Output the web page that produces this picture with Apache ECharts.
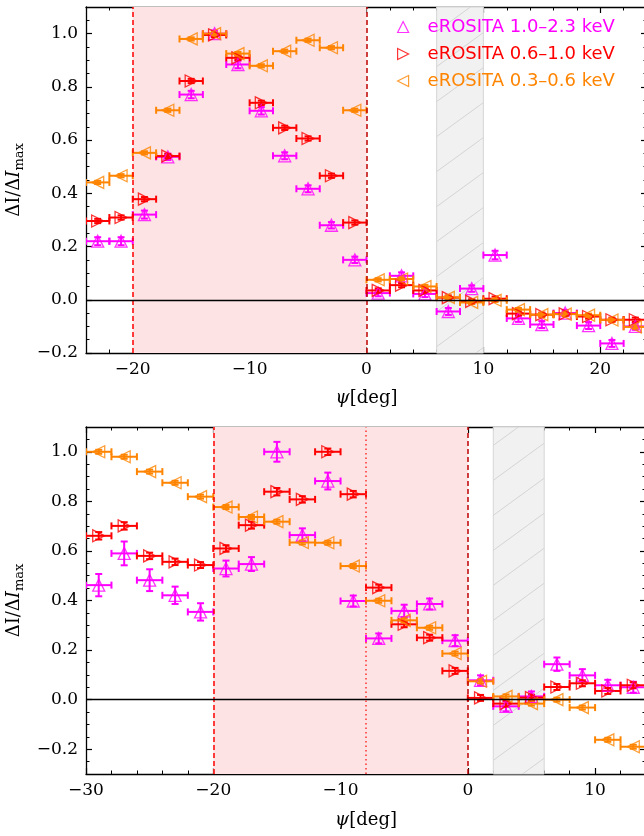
<!DOCTYPE html>
<html>
<head>
<meta charset="UTF-8">
<style>
  html, body { margin: 0; padding: 0; background: #fff; }
  #chart { width: 644px; height: 836px; }
</style>
</head>
<body>
<div id="chart"></div>
<script src="https://cdn.jsdelivr.net/npm/echarts@6/dist/echarts.min.js"></script>
<script>
// bin centres in deg (each bin 2 deg wide)
var psiTop = [-23, -21, -19, -17, -15, -13, -11, -9, -7, -5, -3, -1, 1, 3, 5, 7, 9, 11, 13, 15, 17, 19, 21, 23];
var psiBottom = [-29, -27, -25, -23, -21, -19, -17, -15, -13, -11, -9, -7, -5, -3, -1, 1, 3, 5, 7, 9, 11, 13];

// upper panel
var topHard = [0.22, 0.22, 0.32, 0.537, 0.771, 1.0, 0.884, 0.71, 0.541, 0.417, 0.28, 0.15, 0.025, 0.09, 0.022, -0.044, 0.042, 0.168, -0.07, -0.093, -0.05, -0.097, -0.164, -0.1];
var topMid = [0.296, 0.309, 0.378, 0.54, 0.822, 0.995, 0.909, 0.74, 0.646, 0.606, 0.466, 0.29, 0.035, 0.055, 0.035, 0.008, -0.006, 0.004, -0.052, -0.056, -0.053, -0.063, -0.075, -0.075];
var topSoft = [0.441, 0.466, 0.552, 0.712, 0.98, 1.0, 0.925, 0.879, 0.934, 0.975, 0.947, 0.712, 0.075, 0.078, 0.05, 0.009, -0.01, -0.002, -0.037, -0.056, -0.054, -0.058, -0.076, -0.102];
var topHardErr = [0.015, 0.015, 0.015, 0.012, 0.014, 0.012, 0.014, 0.014, 0.013, 0.013, 0.012, 0.012, 0.012, 0.013, 0.012, 0.013, 0.012, 0.016, 0.013, 0.013, 0.012, 0.013, 0.013, 0.013];
var topMidErr = [0.008, 0.008, 0.008, 0.008, 0.008, 0.008, 0.008, 0.008, 0.008, 0.008, 0.008, 0.008, 0.008, 0.008, 0.008, 0.008, 0.008, 0.008, 0.008, 0.008, 0.008, 0.008, 0.008, 0.008];
var topSoftErr = [0.006, 0.006, 0.006, 0.006, 0.006, 0.006, 0.006, 0.006, 0.006, 0.006, 0.006, 0.006, 0.006, 0.006, 0.006, 0.006, 0.006, 0.006, 0.006, 0.006, 0.006, 0.006, 0.006, 0.006];

// lower panel
var bottomHard = [0.462, 0.59, 0.482, 0.421, 0.354, 0.529, 0.547, 1.0, 0.664, 0.882, 0.398, 0.247, 0.358, 0.386, 0.238, 0.078, -0.027, 0.013, 0.143, 0.098, 0.058, 0.05];
var bottomMid = [0.661, 0.701, 0.58, 0.556, 0.543, 0.61, 0.704, 0.839, 0.808, 1.0, 0.829, 0.452, 0.304, 0.25, 0.116, 0.007, -0.016, 0.008, 0.051, 0.066, 0.035, 0.058];
var bottomSoft = [1.0, 0.98, 0.92, 0.875, 0.819, 0.777, 0.737, 0.718, 0.634, 0.633, 0.539, 0.399, 0.32, 0.29, 0.186, 0.074, 0.013, -0.016, 0.0, -0.032, -0.162, -0.19];
var bottomHardErr = [0.045, 0.048, 0.044, 0.035, 0.035, 0.032, 0.028, 0.04, 0.027, 0.034, 0.022, 0.02, 0.025, 0.022, 0.022, 0.02, 0.02, 0.02, 0.027, 0.025, 0.022, 0.022];
var bottomMidErr = [0.015, 0.015, 0.013, 0.013, 0.012, 0.013, 0.014, 0.015, 0.013, 0.013, 0.013, 0.012, 0.012, 0.012, 0.012, 0.012, 0.012, 0.012, 0.012, 0.012, 0.012, 0.012];
var bottomSoftErr = [0.008, 0.008, 0.008, 0.008, 0.008, 0.008, 0.008, 0.008, 0.008, 0.008, 0.008, 0.008, 0.008, 0.008, 0.008, 0.008, 0.008, 0.008, 0.008, 0.008, 0.008, 0.008];

var names = ['eROSITA 1.0\u20132.3 keV', 'eROSITA 0.6\u20131.0 keV', 'eROSITA 0.3\u20130.6 keV'];
var colors = ['#ff00ff', '#ff0000', '#ff8400'];
var symbols = ['path://M5,0L10,10L0,10Z', 'path://M0,0L10,5L0,10Z', 'path://M10,0L0,5L10,10Z'];

var xTicksTop = [-20, -10, 0, 10, 20];
var xTicksBottom = [-30, -20, -10, 0, 10];
var yTicks = [-0.2, 0, 0.2, 0.4, 0.6, 0.8, 1.0];

function steps(a, b, d) {
  var r = [];
  for (var v = a; v <= b + 1e-9; v += d) r.push(Math.round(v * 1000) / 1000);
  return r;
}

function fmtX(v) { return v < 0 ? '\u2212' + (-v) : String(v); }
function fmtY(v) { return (v < -1e-9 ? '\u2212' : '') + Math.abs(v).toFixed(1); }

function axisSet(g, min, max, majors, minors, sides, fmt, name, nameGap, nameStyle) {
  var out = [];
  sides.forEach(function (side, k) {
    out.push({
      gridIndex: g, type: 'value', min: min, max: max, position: side,
      axisLine: { show: true, onZero: false, lineStyle: { color: '#000', width: 1.3 } },
      axisTick: { show: true, inside: true, length: 6, customValues: majors, lineStyle: { color: '#000', width: 1.2 } },
      axisLabel: k === 0 ? { show: true, customValues: majors, formatter: fmt, fontFamily: 'DejaVu Serif', fontSize: 17, color: '#000', margin: 8 } : { show: false },
      splitLine: { show: false },
      name: k === 0 ? name : '',
      nameLocation: 'middle',
      nameGap: nameGap,
      nameTextStyle: nameStyle
    });
    out.push({
      gridIndex: g, type: 'value', min: min, max: max, position: side,
      axisLine: { show: false, onZero: false },
      axisTick: { show: true, inside: true, length: 3.5, customValues: minors, lineStyle: { color: '#000', width: 1 } },
      axisLabel: { show: false },
      splitLine: { show: false }
    });
  });
  return out;
}

var xNameStyle = {
  fontFamily: 'DejaVu Serif', fontSize: 18, color: '#000',
  rich: { i: { fontFamily: 'DejaVu Serif', fontSize: 18, fontStyle: 'italic', color: '#000' } }
};
var yNameStyle = {
  fontFamily: 'DejaVu Serif', fontSize: 18, color: '#000',
  rich: {
    i: { fontFamily: 'DejaVu Serif', fontSize: 18, fontStyle: 'italic', color: '#000' },
    s: { fontFamily: 'DejaVu Serif', fontSize: 13, color: '#000', padding: [9, 0, 0, 0] }
  }
};

var xAxes = axisSet(0, -24, 24, xTicksTop, steps(-24, 24, 2), ['bottom', 'top'], fmtX, '{i|\u03c8}[deg]', 36, xNameStyle)
  .concat(axisSet(1, -30, 14, xTicksBottom, steps(-30, 14, 2), ['bottom', 'top'], fmtX, '{i|\u03c8}[deg]', 37, xNameStyle));
var yAxes = axisSet(0, -0.2, 1.1, yTicks, steps(-0.2, 1.1, 0.05), ['left', 'right'], fmtY, '\u0394I/\u0394{i|I}{s|max}', 46, yNameStyle)
  .concat(axisSet(1, -0.3, 1.1, yTicks, steps(-0.3, 1.1, 0.05), ['left', 'right'], fmtY, '\u0394I/\u0394{i|I}{s|max}', 46, yNameStyle));

function hatch() {
  var c = document.createElement('canvas');
  c.width = 48; c.height = 35;
  var ctx = c.getContext('2d');
  ctx.fillStyle = '#f1f1f1';
  ctx.fillRect(0, 0, 48, 35);
  ctx.strokeStyle = '#d4d4d4';
  ctx.lineWidth = 1;
  ctx.beginPath();
  ctx.moveTo(-4, 35 + 35 / 48 * 4);
  ctx.lineTo(52, -35 / 48 * 4);
  ctx.stroke();
  return c;
}
var hatchImg = hatch();

function background(g, grayFrom, grayTo, extraLines) {
  var lines = [
    { xAxis: -20, lineStyle: { color: '#ff0000', type: [5, 3], width: 1.5 } },
    { xAxis: 0, lineStyle: { color: '#c00000', type: [5, 3], width: 1.5 } },
    { yAxis: 0, lineStyle: { color: '#000', type: 'solid', width: 1.3 } }
  ].concat(extraLines);
  return {
    type: 'line', xAxisIndex: g * 4, yAxisIndex: g * 4, data: [], silent: true,
    markArea: {
      silent: true,
      data: [
        [{ xAxis: -20, itemStyle: { color: '#fde3e3' } }, { xAxis: 0 }],
        [{ xAxis: grayFrom, itemStyle: { color: { image: hatchImg, repeat: 'repeat' }, borderColor: '#d6d6d6', borderWidth: 1 } }, { xAxis: grayTo }]
      ]
    },
    markLine: { silent: true, symbol: ['none', 'none'], label: { show: false }, data: lines }
  };
}

function errorbars(g, psi, vals, errs, color) {
  return {
    type: 'custom', xAxisIndex: g * 4, yAxisIndex: g * 4, silent: true, clip: true, z: 3,
    data: psi.map(function (p, i) { return [p, vals[i], errs[i]]; }),
    encode: { x: 0, y: 1 },
    renderItem: function (params, api) {
      var x = api.value(0), y = api.value(1), e = api.value(2);
      var l = api.coord([x - 1, y]), r = api.coord([x + 1, y]);
      var t = api.coord([x, y + e]), b = api.coord([x, y - e]);
      var st = { stroke: color, lineWidth: 2 };
      var cap = 3.5;
      return {
        type: 'group',
        children: [
          { type: 'line', shape: { x1: l[0], y1: l[1], x2: r[0], y2: r[1] }, style: st },
          { type: 'line', shape: { x1: l[0], y1: l[1] - cap, x2: l[0], y2: l[1] + cap }, style: st },
          { type: 'line', shape: { x1: r[0], y1: r[1] - cap, x2: r[0], y2: r[1] + cap }, style: st },
          { type: 'line', shape: { x1: t[0], y1: t[1], x2: b[0], y2: b[1] }, style: st },
          { type: 'line', shape: { x1: t[0] - cap, y1: t[1], x2: t[0] + cap, y2: t[1] }, style: st },
          { type: 'line', shape: { x1: b[0] - cap, y1: b[1], x2: b[0] + cap, y2: b[1] }, style: st }
        ]
      };
    }
  };
}

function markers(g, psi, vals, k) {
  return {
    type: 'scatter', name: names[k], xAxisIndex: g * 4, yAxisIndex: g * 4, z: 4,
    symbol: symbols[k], symbolSize: 12,
    itemStyle: { color: 'rgba(0,0,0,0)', borderColor: colors[k], borderWidth: 1.3 },
    data: psi.map(function (p, i) { return [p, vals[i]]; })
  };
}

var series = [
  background(0, 6, 10, []),
  background(1, 2, 6, [{ xAxis: -8, lineStyle: { color: '#ff3030', type: [1.5, 3], width: 1.5 } }])
];
var panels = [
  [psiTop, [topHard, topMid, topSoft], [topHardErr, topMidErr, topSoftErr]],
  [psiBottom, [bottomHard, bottomMid, bottomSoft], [bottomHardErr, bottomMidErr, bottomSoftErr]]
];
panels.forEach(function (p, g) {
  for (var k = 0; k < 3; k++) {
    series.push(errorbars(g, p[0], p[1][k], p[2][k], colors[k]));
    series.push(markers(g, p[0], p[1][k], k));
  }
});

var myChart = echarts.init(document.getElementById('chart'));
myChart.setOption({
  animation: false,
  grid: [
    { left: 86, top: 7, width: 561, height: 346, outerBoundsMode: 'none', containLabel: false },
    { left: 86, top: 427, width: 560, height: 347, outerBoundsMode: 'none', containLabel: false }
  ],
  xAxis: xAxes,
  yAxis: yAxes,
  legend: {
    orient: 'vertical', left: 392, top: 12, itemWidth: 11, itemHeight: 11, itemGap: 7,
    selectedMode: false,
    textStyle: { fontFamily: 'DejaVu Sans', fontSize: 18, lineHeight: 20, padding: [0, 0, 0, 14] },
    data: names.map(function (n, k) {
      return {
        name: n, icon: symbols[k],
        itemStyle: { color: 'rgba(0,0,0,0)', borderColor: colors[k], borderWidth: 1.2 },
        textStyle: { color: colors[k] }
      };
    })
  },
  series: series
});
</script>
</body>
</html>
